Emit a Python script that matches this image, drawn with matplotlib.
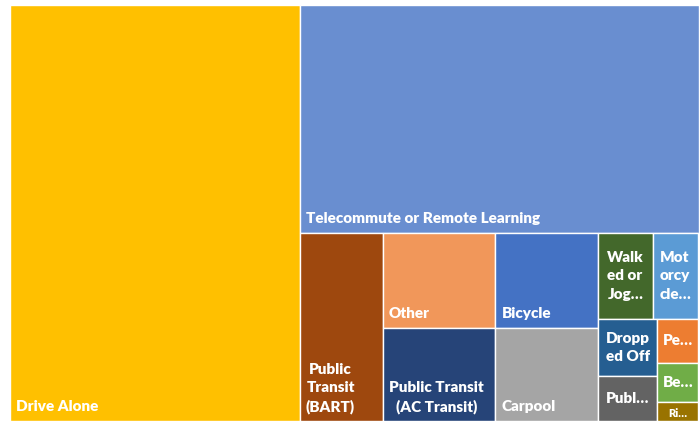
import matplotlib
matplotlib.use("Agg")
import matplotlib.pyplot as plt
from matplotlib.patches import Rectangle

# ---- data ----
categories = ["Drive Alone", "Telecommute or Remote Learning", "Public\nTransit\n(BART)",
              "Other", "Public Transit\n(AC Transit)", "Bicycle", "Carpool",
              "Walk\ned or\nJog…", "Mot\norcy\ncle…", "Dropp\ned Off", "Publ…",
              "Pe…", "Be…", "Ri…"]
shares = [42.08, 31.70, 5.46, 3.74, 3.66, 3.44, 3.33, 1.65, 1.36, 1.18, 0.92, 0.64, 0.57, 0.27]

# ---- style ----
colors = ["#FFC000", "#698ED0", "#9E480E", "#F1975A", "#264478", "#4472C4", "#A5A5A5",
          "#43682B", "#5B9BD5", "#255E91", "#636363", "#ED7D31", "#70AD47", "#997300"]
# strip layout (items per strip, orientation) in Excel-like squarified order
strips = [(1, "col"), (1, "row"), (1, "col"), (2, "col"), (2, "col"), (2, "row"), (2, "col"), (3, "col")]
FONT = "Lato"
FS = 11
WEIGHT = 800

fig = plt.figure(figsize=(6.99, 4.28), dpi=100)
L, B, Wpx, Hpx = 10, 7, 688.5, 416
ax = fig.add_axes([L / 699, B / 428, Wpx / 699, Hpx / 428])
total = sum(shares)
H = (total * Hpx / Wpx) ** 0.5
W = total / H
ax.set_xlim(0, W)
ax.set_ylim(H, 0)
ax.axis("off")


def layout(vals, x, y, w, h, strips):
    rects = []
    i = 0
    for n, orient in strips:
        group = vals[i:i + n]
        s = sum(group)
        if orient == "col":
            sw = s / h
            yy = y
            for v in group:
                rh = v / sw
                rects.append((x, yy, sw, rh))
                yy += rh
            x += sw
            w -= sw
        else:
            sh = s / w
            xx = x
            for v in group:
                rw = v / sh
                rects.append((xx, y, rw, sh))
                xx += rw
            y += sh
            h -= sh
        i += n
    return rects


rects = layout(shares, 0, 0, W, H, strips)
for (x, y, w, h), lab, c, v in zip(rects, categories, colors, shares):
    r = Rectangle((x, y), w, h, facecolor=c, edgecolor="white", linewidth=1.0)
    ax.add_patch(r)
    fs = FS if h * Hpx / H > 25 else 8
    if v >= 2:
        t = ax.annotate(lab, xy=(x, y + h), xytext=(4.5, 7.2), textcoords="offset points",
                        ha="left", va="baseline", multialignment="center",
                        color="white", fontweight=WEIGHT, fontsize=fs, family=FONT,
                        linespacing=1.42)
    else:
        t = ax.text(x + w / 2, y + h / 2 + (0.03 if fs < FS else 0), lab, ha="center", va="center",
                    multialignment="left", color="white", fontweight=WEIGHT,
                    fontsize=fs, family=FONT, linespacing=1.5)
    t.set_clip_path(r)

fig.savefig("out.png", dpi=100)
